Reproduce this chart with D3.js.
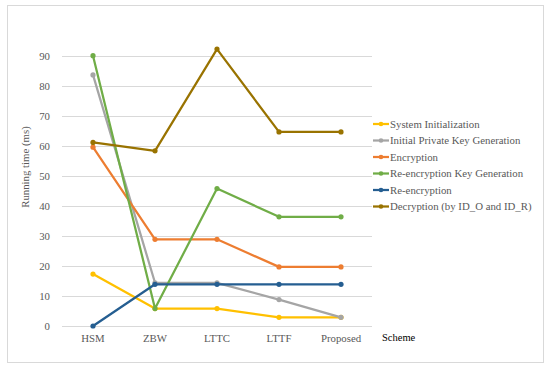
<!DOCTYPE html>
<html>
<head>
<meta charset="utf-8">
<script src="https://cdn.jsdelivr.net/npm/d3@7"></script>
</head>
<body style="margin:0">
<svg id="chart" width="550" height="369"></svg>
<script>
const categories = ["HSM", "ZBW", "LTTC", "LTTF", "Proposed"];
const seriesNames = ["System Initialization", "Initial Private Key Generation", "Encryption", "Re-encryption Key Generation", "Re-encryption", "Decryption (by ID_O and ID_R)"];
const systemInit = [17.3, 5.8, 5.8, 2.9, 2.9];
const initPrivKey = [83.7, 14.4, 14.4, 8.8, 2.9];
const encryption = [59.6, 28.9, 28.9, 19.7, 19.7];
const reEncKeyGen = [90.1, 5.8, 45.8, 36.4, 36.4];
const reEncryption = [0, 13.9, 13.9, 13.9, 13.9];
const decryption = [61.2, 58.4, 92.3, 64.7, 64.7];
const yTicks = [0, 10, 20, 30, 40, 50, 60, 70, 80, 90];
const colors = ["#FFC000", "#A5A5A5", "#ED7D31", "#70AD47", "#255E91", "#997300"];
const allSeries = [systemInit, initPrivKey, encryption, reEncKeyGen, reEncryption, decryption];

const FONT = "Liberation Serif";
const FS = 10.8;
const svg = d3.select("#chart");
// outer border
svg.append("rect").attr("x", 7.5).attr("y", 5.5).attr("width", 536).attr("height", 357)
  .attr("fill", "#fff").attr("stroke", "#D9D9D9").attr("stroke-width", 1);

const x = d3.scaleBand().domain(categories).range([62, 372]);
const y = d3.scaleLinear().domain([0, 100]).range([326, 26]);

// gridlines
svg.append("g").selectAll("line").data(yTicks).join("line")
  .attr("x1", 62).attr("x2", 372)
  .attr("y1", d => Math.round(y(d)) + 0.5).attr("y2", d => Math.round(y(d)) + 0.5)
  .attr("stroke", "#D9D9D9").attr("stroke-width", 1);

// y axis labels
const yAxis = d3.axisLeft(y).tickValues(yTicks).tickSize(0).tickPadding(0);
const gy = svg.append("g").attr("transform", "translate(50,0)").call(yAxis)
  .attr("font-family", FONT).attr("font-size", FS);
gy.select(".domain").remove();
gy.selectAll("text").attr("font-family", FONT).attr("font-size", FS).attr("fill", "#595959");

// x axis labels
const xAxis = d3.axisBottom(x).tickSize(0).tickPadding(0);
const gx = svg.append("g").attr("transform", "translate(0,334)").call(xAxis)
  .attr("font-family", FONT).attr("font-size", FS);
gx.select(".domain").remove();
gx.selectAll("text").attr("font-family", FONT).attr("font-size", FS).attr("fill", "#595959");

// axis titles
svg.append("text").attr("transform", "translate(29,167) rotate(-90)")
  .attr("text-anchor", "middle").attr("font-family", FONT).attr("font-size", FS).attr("fill", "#595959")
  .text("Running time (ms)");
svg.append("text").attr("x", 382).attr("y", 341).attr("font-family", FONT).attr("font-size", 10.5).attr("fill", "#000")
  .text("Scheme");

// lines
const line = d3.line().x((d, i) => x(categories[i]) + x.bandwidth() / 2).y(d => y(d));
allSeries.forEach((s, k) => {
  svg.append("path").datum(s).attr("d", line).attr("fill", "none")
    .attr("stroke", colors[k]).attr("stroke-width", 2.25).attr("stroke-linejoin", "round");
  svg.append("g").selectAll("circle").data(s).join("circle")
    .attr("cx", (d, i) => x(categories[i]) + x.bandwidth() / 2).attr("cy", d => y(d))
    .attr("r", 2.6).attr("fill", colors[k]);
});

// legend
const lg = svg.append("g");
seriesNames.forEach((n, k) => {
  const ly = 124 + k * 16.5;
  lg.append("line").attr("x1", 373).attr("x2", 389).attr("y1", ly).attr("y2", ly)
    .attr("stroke", colors[k]).attr("stroke-width", 2.25);
  lg.append("circle").attr("cx", 381).attr("cy", ly).attr("r", 2.3).attr("fill", colors[k]);
  lg.append("text").attr("x", 390).attr("y", ly + 3.8).attr("font-family", FONT).attr("font-size", FS).attr("fill", "#595959").text(n);
});
</script>
</body>
</html>
